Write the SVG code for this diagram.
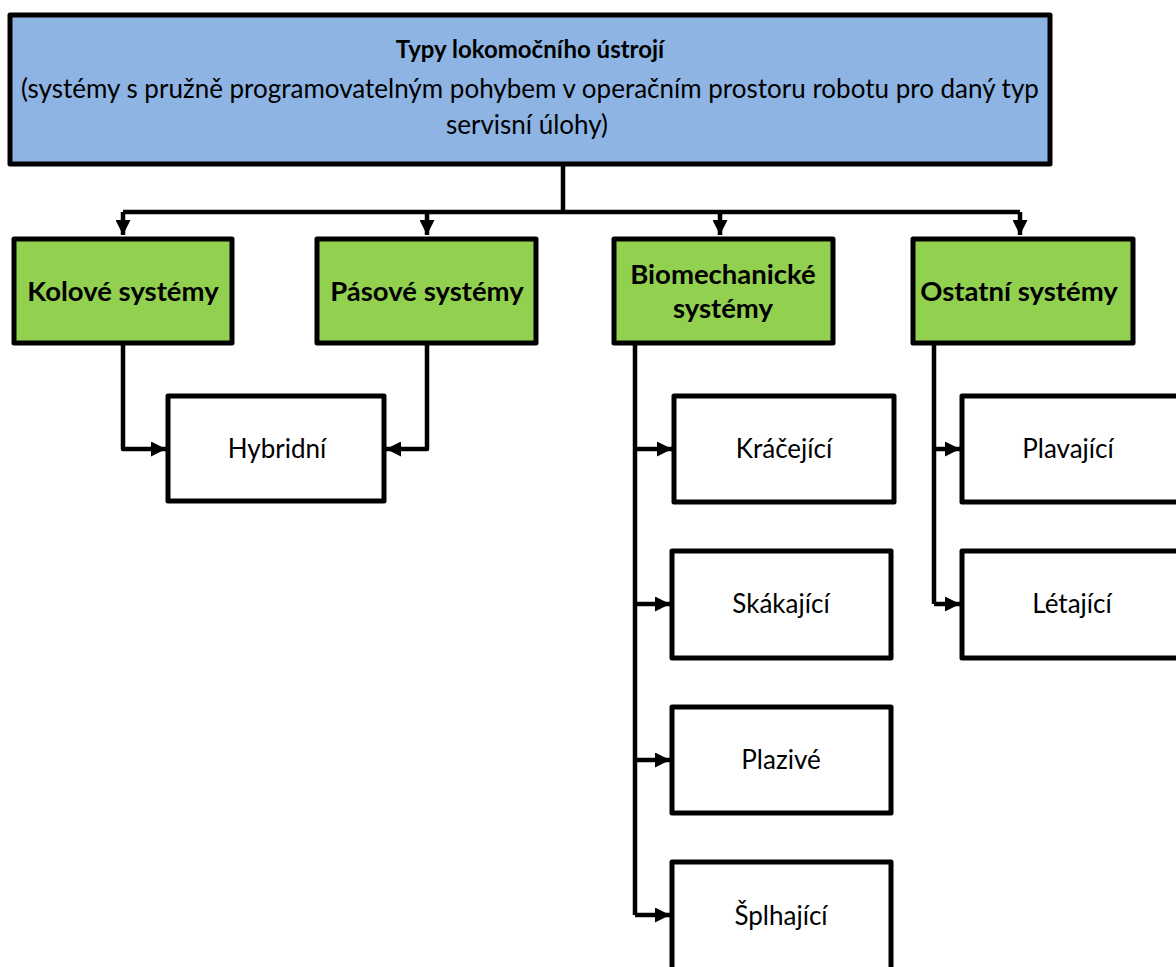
<svg xmlns="http://www.w3.org/2000/svg" width="1176" height="967" viewBox="0 0 1176 967">
  <style>
    .box { stroke: #000; stroke-width: 5; stroke-linejoin: round; }
    .root { fill: #8EB4E3; }
    .cat { fill: #92D050; }
    .leaf { fill: #FFFFFF; }
    .t { font-family: Lato, "Open Sans", sans-serif; fill: #000; text-anchor: middle; }
    .h { font-weight: bold; font-size: 24px; }
    .b { font-weight: bold; font-size: 27.5px; }
    .n { font-size: 26px; }
    .wire { fill: none; stroke: #000; stroke-width: 4.5; stroke-linejoin: round; }
  </style>
  <defs>
    <marker id="arrow" markerUnits="userSpaceOnUse" markerWidth="15" markerHeight="15" viewBox="0 0 15 15" refX="15" refY="7.5" orient="auto">
      <path d="M0 0 L15 7.5 L0 15 Z" fill="#000"/>
    </marker>
  </defs>
  <rect width="1176" height="967" fill="#FFFFFF"/>

  <!-- connectors -->
  <g id="connectors">
    <path class="wire" d="M563 164 V212 M123 212 H1020"/>
    <path class="wire" d="M123 212 V235" marker-end="url(#arrow)"/>
    <path class="wire" d="M427 212 V235" marker-end="url(#arrow)"/>
    <path class="wire" d="M720 212 V235" marker-end="url(#arrow)"/>
    <path class="wire" d="M1020 212 V235" marker-end="url(#arrow)"/>
    <path class="wire" d="M123 343 V449 H166" marker-end="url(#arrow)"/>
    <path class="wire" d="M427 343 V449 H386" marker-end="url(#arrow)"/>
    <path class="wire" d="M635 343 V915"/>
    <path class="wire" d="M635 449 H672" marker-end="url(#arrow)"/>
    <path class="wire" d="M635 604 H670" marker-end="url(#arrow)"/>
    <path class="wire" d="M635 760 H670" marker-end="url(#arrow)"/>
    <path class="wire" d="M635 915 H670" marker-end="url(#arrow)"/>
    <path class="wire" d="M934 343 V604"/>
    <path class="wire" d="M934 449 H960" marker-end="url(#arrow)"/>
    <path class="wire" d="M934 604 H960" marker-end="url(#arrow)"/>
  </g>

  <g id="root">
    <rect class="box root" x="10" y="15" width="1040" height="149"/>
    <text class="t h" x="530" y="58">Typy lokomočního ústrojí</text>
    <text class="t n" x="530" y="98">(systémy s pružně programovatelným pohybem v operačním prostoru robotu pro daný typ</text>
    <text class="t n" x="527" y="134">servisní úlohy)</text>
  </g>

  <g id="kolove">
    <rect class="box cat" x="14" y="239" width="218" height="104"/>
    <text class="t b" x="123" y="301">Kolové systémy</text>
  </g>
  <g id="pasove">
    <rect class="box cat" x="317" y="239" width="219" height="104"/>
    <text class="t b" x="427" y="301">Pásové systémy</text>
  </g>
  <g id="biomechanicke">
    <rect class="box cat" x="614" y="239" width="219" height="104"/>
    <text class="t b" x="723" y="284">Biomechanické</text>
    <text class="t b" x="723" y="318">systémy</text>
  </g>
  <g id="ostatni">
    <rect class="box cat" x="913" y="239" width="220" height="104"/>
    <text class="t b" x="1019" y="301">Ostatní systémy</text>
  </g>

  <g id="hybridni">
    <rect class="box leaf" x="168" y="396" width="216" height="105"/>
    <text class="t n" x="277" y="458">Hybridní</text>
  </g>
  <g id="kracejici">
    <rect class="box leaf" x="674" y="396" width="220" height="106"/>
    <text class="t n" x="784" y="458">Kráčející</text>
  </g>
  <g id="skakajici">
    <rect class="box leaf" x="672" y="551" width="219" height="107"/>
    <text class="t n" x="781" y="613">Skákající</text>
  </g>
  <g id="plazive">
    <rect class="box leaf" x="672" y="707" width="219" height="106"/>
    <text class="t n" x="781" y="769">Plazivé</text>
  </g>
  <g id="splhajici">
    <rect class="box leaf" x="672" y="862" width="219" height="120"/>
    <text class="t n" x="781" y="925">Šplhající</text>
  </g>
  <g id="plavajici">
    <rect class="box leaf" x="962" y="396" width="230" height="106"/>
    <text class="t n" x="1068" y="458">Plavající</text>
  </g>
  <g id="letajici">
    <rect class="box leaf" x="962" y="551" width="230" height="107"/>
    <text class="t n" x="1072" y="613">Létající</text>
  </g>
</svg>
